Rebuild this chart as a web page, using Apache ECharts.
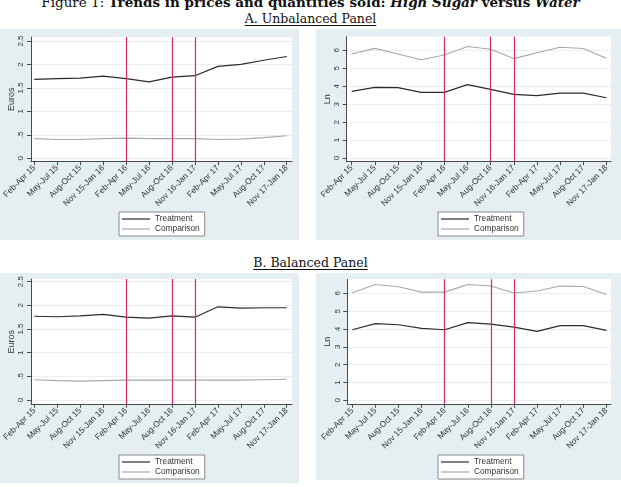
<!DOCTYPE html>
<html>
<head>
<meta charset="utf-8">
<script src="https://cdn.jsdelivr.net/npm/echarts@6/dist/echarts.min.js"></script>
<style>
  html, body { margin: 0; padding: 0; background: #fff; }
  #wrap { position: relative; width: 621px; height: 487px; overflow: hidden; }
  .bg { position: absolute; background: #e5eef1; }
  #chart { position: absolute; left: 0; top: 0; width: 621px; height: 487px; }
  .head {
    position: absolute; left: 0; width: 621px; text-align: center;
    font-family: "DejaVu Serif", serif; font-size: 12.5px; line-height: 14px; color: #111;
  }
  .head u { text-underline-offset: 2px; text-decoration-thickness: 1px; }
</style>
</head>
<body>
<div id="wrap">
  <div class="bg" style="left:0;top:29px;width:299px;height:211px"></div>
  <div class="bg" style="left:316px;top:29px;width:305px;height:211px"></div>
  <div class="bg" style="left:0;top:273px;width:299px;height:210px"></div>
  <div class="bg" style="left:316px;top:273px;width:305px;height:207px"></div>
  <div class="head" style="top:-5px;font-size:13.5px">Figure 1: <b>Trends in prices and quantities sold: <i>High Sugar</i> versus <i>Water</i></b></div>
  <div class="head" style="top:12px"><u>A. Unbalanced Panel</u></div>
  <div class="head" style="top:256px"><u>B. Balanced Panel</u></div>
  <div id="chart"></div>
</div>
<script>
// periods on the x axis
const periods = ["Feb-Apr 15", "May-Jul 15", "Aug-Oct 15", "Nov 15-Jan 16", "Feb-Apr 16", "May-Jul 16",
  "Aug-Oct 16", "Nov 16-Jan 17", "Feb-Apr 17", "May-Jul 17", "Aug-Oct 17", "Nov 17-Jan 18"]
// vertical red reference lines
const breakPeriods = ["Feb-Apr 16", "Aug-Oct 16", "Nov 16-Jan 17"]

// y tick values / labels
const priceTicks = [0, 0.5, 1, 1.5, 2, 2.5]
const priceTickLabels = ["0", ".5", "1", "1.5", "2", "2.5"]
const qtyTicks = [0, 1, 2, 3, 4, 5, 6]
const qtyTickLabels = ["0", "1", "2", "3", "4", "5", "6"]

// A. Unbalanced Panel
const unbalPriceTreatment = [1.68, 1.70, 1.71, 1.75, 1.70, 1.63, 1.73, 1.76, 1.96, 2.00, 2.09, 2.17]
const unbalPriceComparison = [0.42, 0.40, 0.40, 0.42, 0.43, 0.42, 0.42, 0.42, 0.40, 0.41, 0.44, 0.48]
const unbalQtyTreatment = [3.72, 3.94, 3.92, 3.66, 3.66, 4.09, 3.83, 3.55, 3.48, 3.62, 3.62, 3.36]
const unbalQtyComparison = [5.80, 6.11, 5.80, 5.48, 5.74, 6.21, 6.06, 5.54, 5.87, 6.17, 6.10, 5.56]

// B. Balanced Panel
const balPriceTreatment = [1.77, 1.76, 1.78, 1.81, 1.75, 1.73, 1.78, 1.75, 1.97, 1.94, 1.95, 1.95]
const balPriceComparison = [0.43, 0.41, 0.40, 0.41, 0.42, 0.42, 0.42, 0.42, 0.42, 0.42, 0.43, 0.44]
const balQtyTreatment = [3.96, 4.30, 4.24, 4.04, 3.96, 4.36, 4.28, 4.11, 3.87, 4.19, 4.19, 3.93]
const balQtyComparison = [6.04, 6.50, 6.37, 6.07, 6.07, 6.50, 6.41, 6.02, 6.13, 6.41, 6.39, 5.94]

const FONT = "Liberation Sans"
const TEXT = "#333"
const AXIS = "#4a4a4a"
const RED = "#d22d5c"

// one entry per small chart
const panels = [
  { grid: { left: 30, right: 329, top: 37, bottom: 325.3 }, x: [-0.14, 11.23], y: [-0.072, 2.585],
    ticks: priceTicks, labels: priceTickLabels, name: "Euros", legend: { left: 119, top: 212 },
    treat: unbalPriceTreatment, comp: unbalPriceComparison },
  { grid: { left: 346.7, right: 10, top: 36.7, bottom: 325.3 }, x: [-0.216, 11.2], y: [-0.2, 6.76],
    ticks: qtyTicks, labels: qtyTickLabels, name: "Ln", legend: { left: 438, top: 212 },
    treat: unbalQtyTreatment, comp: unbalQtyComparison },
  { grid: { left: 30, right: 329, top: 279, bottom: 82.7 }, x: [-0.14, 11.23], y: [-0.09, 2.557],
    ticks: priceTicks, labels: priceTickLabels, name: "Euros", legend: { left: 119, top: 455 },
    treat: balPriceTreatment, comp: balPriceComparison },
  { grid: { left: 347.3, right: 10, top: 279.3, bottom: 82.7 }, x: [-0.216, 11.2], y: [-0.22, 6.79],
    ticks: qtyTicks, labels: qtyTickLabels, name: "Ln", legend: { left: 438, top: 455 },
    treat: balQtyTreatment, comp: balQtyComparison },
]

const idx = periods.map((p, k) => k)

const option = {
  animation: false,
  backgroundColor: "transparent",
  grid: [],
  xAxis: [],
  yAxis: [],
  legend: [],
  series: [],
}

panels.forEach((p, i) => {
  option.grid.push(Object.assign({ show: true, backgroundColor: "#fff", borderWidth: 0 }, p.grid))
  option.xAxis.push({
    type: "value", gridIndex: i, min: p.x[0], max: p.x[1],
    axisLine: { show: true, onZero: false, lineStyle: { color: AXIS, width: 1 } },
    axisTick: { show: true, length: 3.5, customValues: idx, lineStyle: { color: AXIS } },
    axisLabel: {
      customValues: idx, rotate: 45, margin: 5, fontSize: 8.3, fontFamily: FONT, color: TEXT,
      formatter: (v) => periods[Math.round(v)],
    },
    splitLine: { show: false },
  })
  option.yAxis.push({
    type: "value", gridIndex: i, min: p.y[0], max: p.y[1],
    name: p.name, nameLocation: "middle", nameGap: 15,
    nameTextStyle: { fontSize: 9, fontFamily: FONT, color: TEXT },
    axisLine: { show: true, onZero: false, lineStyle: { color: AXIS, width: 1 } },
    axisTick: { show: true, length: 4, customValues: p.ticks, lineStyle: { color: AXIS } },
    axisLabel: {
      customValues: p.ticks, rotate: 90, margin: 6, fontSize: 8, fontFamily: FONT, color: TEXT,
      formatter: (v) => p.labels[p.ticks.indexOf(v)],
    },
    splitLine: { show: true, lineStyle: { color: "#e8eef1", width: 1 } },
  })
  option.legend.push({
    left: p.legend.left, top: p.legend.top, orient: "vertical",
    data: ["Treatment", "Comparison"],
    icon: "rect", itemWidth: 28, itemHeight: 1.2, itemGap: 2,
    padding: [3, 5, 3, 3],
    backgroundColor: "#fff", borderColor: "#8a8a8a", borderWidth: 1, borderRadius: 0,
    textStyle: { fontSize: 8.3, fontFamily: FONT, color: TEXT },
    selectedMode: false,
  })
  // vertical reference lines in their own empty series
  option.series.push({
    type: "line", name: "breaks", xAxisIndex: i, yAxisIndex: i, data: [],
    z: 1,
    markLine: {
      silent: true, symbol: "none", label: { show: false },
      lineStyle: { color: RED, width: 1.2, type: "solid", opacity: 1 },
      emphasis: { disabled: true },
      data: breakPeriods.map((b) => ({
        xAxis: periods.indexOf(b),
        lineStyle: { color: RED, width: 1.2, type: "solid" },
      })),
    },
  })
  option.series.push({
    type: "line", name: "Treatment", xAxisIndex: i, yAxisIndex: i,
    data: p.treat.map((v, k) => [k, v]),
    symbol: "none", z: 3,
    lineStyle: { color: "#2b2b2b", width: 1.2 }, itemStyle: { color: "#2b2b2b" },
  })
  option.series.push({
    type: "line", name: "Comparison", xAxisIndex: i, yAxisIndex: i,
    data: p.comp.map((v, k) => [k, v]),
    symbol: "none", z: 2,
    lineStyle: { color: "#a8a8a8", width: 1.1 }, itemStyle: { color: "#a8a8a8" },
  })
})

const myChart = echarts.init(document.getElementById("chart"))
myChart.setOption(option)
</script>
</body>
</html>
